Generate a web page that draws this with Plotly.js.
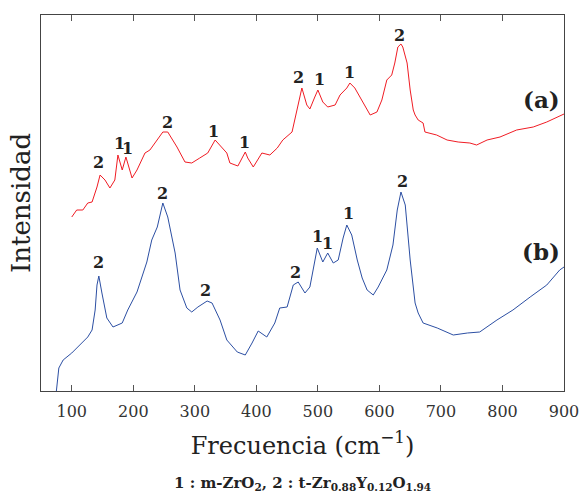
<!DOCTYPE html>
<html>
<head>
<meta charset="utf-8">
<script src="https://cdn.plot.ly/plotly-3.0.1.min.js"></script>
<style>html,body{margin:0;padding:0;background:#fff;}#chart{width:583px;height:501px;}</style>
</head>
<body>
<div id="chart"></div>
<script>
// Spectrum (a) – red
const freqA = [100,108,118,126,133,138,141,146,154,162,170,175,182,188,198,206,219,227,239,248,256,271,284,295,308,321,333,344,352,357,370,382,386,395,409,422,434,443,458,466,474,482,487,495,500,508,516,528,536,547,552,560,568,577,585,596,604,612,620,625,630,635,638,645,650,655,658,663,671,674,693,710,728,747,758,775,796,823,850,872,900];
const intA  = [174,181,181,188,189,198,204,216,211,203,211,236,221,234,213,221,238,241,251,259,259,244,229,228,233,238,251,244,238,228,225,239,233,224,238,236,243,251,259,281,303,286,282,294,301,289,284,286,296,303,308,303,294,284,276,279,291,311,316,328,344,347,344,328,301,281,276,271,268,259,256,251,249,248,246,251,254,261,264,269,277];
// Spectrum (b) – blue
const freqB = [75,79,86,100,113,126,133,138,141,144,149,157,167,182,191,206,222,230,239,248,256,268,276,287,295,305,320,328,341,352,369,382,393,403,417,430,438,450,460,468,479,487,499,508,516,525,533,541,547,555,564,572,580,590,598,612,622,629,635,642,650,658,663,671,694,720,743,763,791,817,845,872,893,900];
const intB  = [0,23,31,38,46,54,61,81,106,115,98,73,64,68,81,99,129,151,164,188,174,138,101,83,79,84,90,88,71,51,39,36,48,60,54,68,83,84,106,109,98,104,143,129,138,128,131,153,166,156,131,113,101,96,104,121,146,181,199,186,131,88,78,68,63,56,58,59,71,81,94,106,121,124];
// Peak labels
const labA = ["2","1","1","2","1","1","2","1","1","2"];
const labAx = [144,178,190,255,330,380,469,503,552,633];
const labAy = [229,248,243,269,260,249,314,312,319,356];
const labB = ["2","2","2","2","1","1","1","2"];
const labBx = [143,248,318,463,500,516,549,637];
const labBy = [129,198,101,119,155,148,178,210];
const seriesNames = ["(a)","(b)"];
const seriesNameX = [863,863];
const seriesNameY = [292,140];
const xTicks = [100,200,300,400,500,600,700,800,900];

const FONT = "DejaVu Serif, Liberation Serif, serif";
const traces = [
  {x:freqA, y:intA, type:"scatter", mode:"lines", line:{color:"#f01c24", width:1}, name:"(a)", hoverinfo:"skip"},
  {x:freqB, y:intB, type:"scatter", mode:"lines", line:{color:"#2c4fa3", width:1}, name:"(b)", hoverinfo:"skip"}
];
const ann = [];
labA.forEach((t,i)=>ann.push({x:labAx[i], y:labAy[i], text:"<b>"+t+"</b>", showarrow:false, font:{family:FONT,size:16,color:"#222"}}));
labB.forEach((t,i)=>ann.push({x:labBx[i], y:labBy[i], text:"<b>"+t+"</b>", showarrow:false, font:{family:FONT,size:16,color:"#222"}}));
seriesNames.forEach((t,i)=>ann.push({x:seriesNameX[i], y:seriesNameY[i], text:"<b>"+t+"</b>", showarrow:false, font:{family:FONT,size:23,color:"#222"}}));
ann.push({xref:"paper", yref:"paper", x:0.5, y:-0.247, yanchor:"middle", showarrow:false,
  text:"<b>1 : m-ZrO<sub>2</sub>, 2 : t-Zr<sub>0.88</sub>Y<sub>0.12</sub>O<sub>1.94</sub></b>",
  font:{family:FONT,size:15,color:"#222"}});

const layout = {
  width:583, height:501,
  margin:{l:41, r:19, t:15, b:110},
  paper_bgcolor:"#fff", plot_bgcolor:"#fff",
  showlegend:false,
  font:{family:FONT, color:"#333"},
  xaxis:{range:[50,900], tickvals:xTicks, ticks:"inside", ticklen:6, tickcolor:"#555",
    showline:true, linecolor:"#444", linewidth:1, mirror:"ticks", showgrid:false, zeroline:false,
    ticklabelstandoff:6,
    tickfont:{family:FONT,size:16,color:"#333"},
    title:{text:"Frecuencia (cm<sup>−1</sup>)", font:{family:FONT,size:24,color:"#222"}, standoff:16}},
  yaxis:{range:[0,376], showticklabels:false, ticks:"", showline:true, linecolor:"#444", linewidth:1,
    mirror:true, showgrid:false, zeroline:false,
    title:{text:"Intensidad", font:{family:FONT,size:26,color:"#222"}, standoff:1}},
  annotations:ann
};
Plotly.newPlot("chart", traces, layout, {displayModeBar:false, staticPlot:true});
</script>
</body>
</html>
